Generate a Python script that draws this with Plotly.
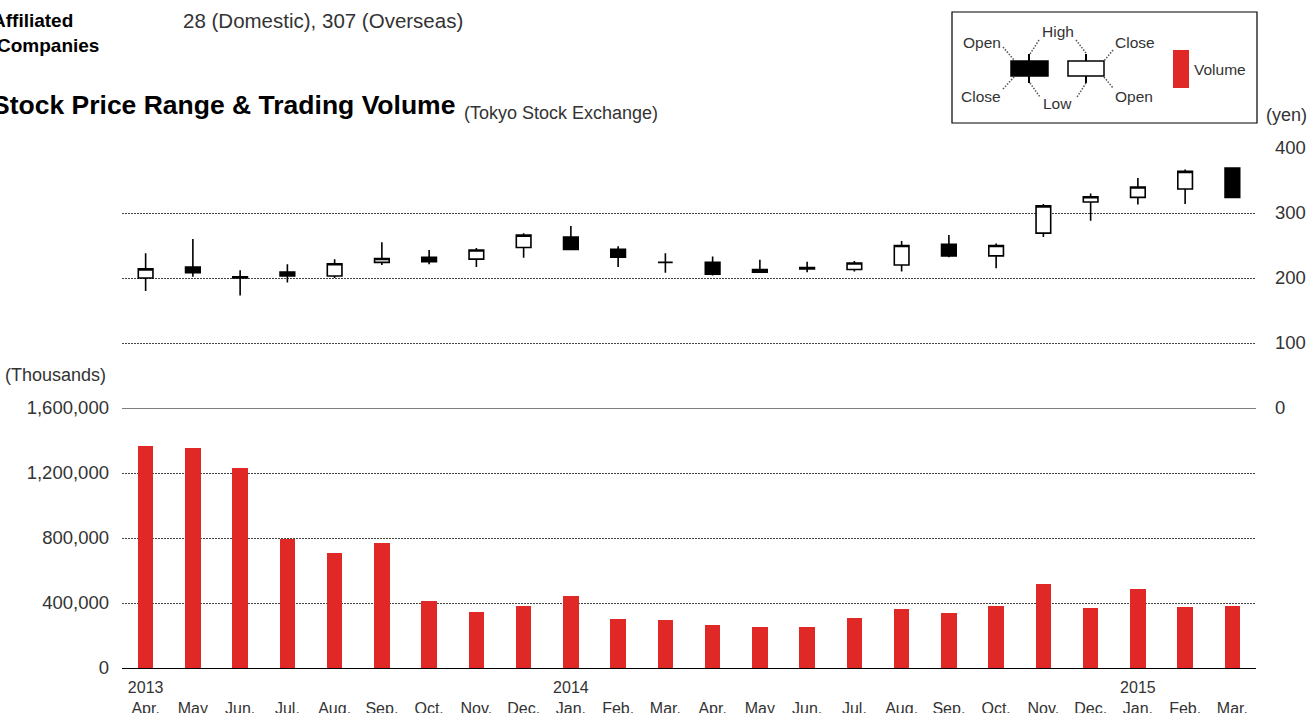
import plotly.graph_objects as go

# monthly data, Apr 2013 - Mar 2015 (Tokyo Stock Exchange)
months = ["2013-04", "2013-05", "2013-06", "2013-07", "2013-08", "2013-09",
          "2013-10", "2013-11", "2013-12", "2014-01", "2014-02", "2014-03",
          "2014-04", "2014-05", "2014-06", "2014-07", "2014-08", "2014-09",
          "2014-10", "2014-11", "2014-12", "2015-01", "2015-02", "2015-03"]
month_labels = ["Apr.", "May", "Jun.", "Jul.", "Aug.", "Sep.", "Oct.", "Nov.", "Dec.",
                "Jan.", "Feb.", "Mar.", "Apr.", "May", "Jun.", "Jul.", "Aug.", "Sep.",
                "Oct.", "Nov.", "Dec.", "Jan.", "Feb.", "Mar."]
year_labels = ["2013", "", "", "", "", "", "", "", "", "2014", "", "",
               "", "", "", "", "", "", "", "", "", "2015", "", ""]

price_open = [200, 217, 202, 209, 203, 224, 232, 229, 247, 263, 244, 224,
              224, 209, 216, 213, 220, 252, 234, 269, 317, 324, 337, 369]
price_high = [238, 260, 212, 221, 229, 255, 243, 246, 269, 280, 249, 238,
              233, 228, 225, 226, 257, 266, 253, 314, 330, 354, 367, 370]
price_low = [180, 202, 173, 193, 200, 220, 221, 217, 231, 244, 217, 208,
             204, 208, 209, 210, 210, 232, 215, 263, 288, 313, 314, 323]
price_close = [214, 208, 200, 203, 222, 230, 225, 243, 266, 244, 232, 224,
               206, 213, 214, 223, 250, 234, 250, 311, 325, 340, 364, 324]
volume = [1366000, 1354000, 1231000, 794000, 708000, 769000, 412000, 345000,
          382000, 443000, 302000, 295000, 265000, 252000, 252000, 308000,
          363000, 338000, 382000, 517000, 369000, 486000, 375000, 382000]

W, H = 1310, 713
L, R, T, B = 122, 1256, 148, 668
red = "#e02826"
txt = "#333333"
grid = "#444444"
font = "Liberation Sans"


def px(x):
    return (x - L) / (R - L)


def py(y):
    return (B - y) / (B - T)


ticktext = [f"{y}<br>{m}" if y else f" <br>{m}" for y, m in zip(year_labels, month_labels)]

fig = go.Figure()
fig.add_trace(go.Bar(
    x=months, y=volume, marker_color=red, marker_line_width=0,
    width=0.33, yaxis="y", showlegend=False,
))
fig.add_trace(go.Candlestick(
    x=months, open=price_open, high=price_high, low=price_low, close=price_close,
    yaxis="y2", showlegend=False,
    increasing=dict(line=dict(color="black", width=1.6), fillcolor="white"),
    decreasing=dict(line=dict(color="black", width=1.6), fillcolor="black"),
))

shapes = [
    # solid top line of the volume panel
    dict(type="line", xref="paper", yref="y", x0=0, x1=1, y0=1600000, y1=1600000,
         line=dict(color="black", width=1.2)),
    # legend box
    dict(type="rect", xref="paper", yref="paper", x0=px(952), x1=px(1257), y0=py(12), y1=py(123),
         line=dict(color="black", width=1.2)),
    # legend: black candle
    dict(type="line", xref="paper", yref="paper", x0=px(1029), x1=px(1029), y0=py(54), y1=py(83),
         line=dict(color="black", width=2)),
    dict(type="rect", xref="paper", yref="paper", x0=px(1011), x1=px(1048), y0=py(61), y1=py(76),
         line=dict(color="black", width=1.5), fillcolor="black"),
    # legend: white candle
    dict(type="line", xref="paper", yref="paper", x0=px(1086), x1=px(1086), y0=py(54), y1=py(83),
         line=dict(color="black", width=2)),
    dict(type="rect", xref="paper", yref="paper", x0=px(1068), x1=px(1104), y0=py(61), y1=py(76),
         line=dict(color="black", width=1.5), fillcolor="white"),
    # legend: volume swatch
    dict(type="rect", xref="paper", yref="paper", x0=px(1173), x1=px(1189), y0=py(50), y1=py(88),
         line=dict(width=0), fillcolor=red),
]
leaders = [((1003, 47), (1014, 60)), ((1003, 89), (1014, 77)),
           ((1039, 40), (1030, 54)), ((1076, 40), (1086, 53)),
           ((1030, 83), (1040, 97)), ((1086, 83), (1077, 97)),
           ((1113, 50), (1104, 61)), ((1104, 77), (1113, 88))]
for (x0, y0), (x1, y1) in leaders:
    shapes.append(dict(type="line", xref="paper", yref="paper",
                       x0=px(x0), y0=py(y0), x1=px(x1), y1=py(y1),
                       line=dict(color="#555555", width=1.5, dash="1.5px,1.5px")))

annotations = []


def note(text, x, y, size, anchor="left", bold=False, color="black"):
    annotations.append(dict(
        text=f"<b>{text}</b>" if bold else text, xref="paper", yref="paper",
        x=px(x), y=py(y), xanchor=anchor, yanchor="middle", showarrow=False,
        font=dict(family=font, size=size, color=color),
    ))


note("Affiliated", 75, 20, 19, anchor="right", bold=True)
note("Companies", 101, 45, 19, anchor="right", bold=True)
note("28 (Domestic), 307 (Overseas)", 181, 20, 20.5, color=txt)
note("Stock Price Range &amp; Trading Volume", 457, 105, 26.5, anchor="right", bold=True)
note("(Tokyo Stock Exchange)", 462, 113, 18, color=txt)
note("(yen)", 1309, 115, 18, anchor="right", color=txt)
note("(Thousands)", 108, 375, 18, anchor="right", color=txt)
note("Open", 1003, 42, 15.5, anchor="right", color=txt)
note("Close", 1003, 97, 15.5, anchor="right", color=txt)
note("High", 1058, 32, 15.5, anchor="center", color=txt)
note("Low", 1057, 103, 15.5, anchor="center", color=txt)
note("Close", 1113, 42, 15.5, color=txt)
note("Open", 1113, 97, 15.5, color=txt)
note("Volume", 1192, 69, 15.5, color=txt)

fig.update_layout(
    width=W, height=H,
    margin=dict(l=L, r=W - R, t=T, b=H - B, autoexpand=False),
    plot_bgcolor="white", paper_bgcolor="white",
    font=dict(family=font, color=txt),
    boxgap=0.69, boxgroupgap=0,
    bargap=0,
    shapes=shapes, annotations=annotations,
    xaxis=dict(
        type="category", categoryorder="array", categoryarray=months,
        tickvals=months, ticktext=ticktext, ticks="", ticklabelstandoff=5,
        tickfont=dict(size=16, color=txt), automargin=False,
        showgrid=False, showline=True, linecolor="black", linewidth=1.2,
        rangeslider=dict(visible=False), fixedrange=True,
    ),
    yaxis=dict(
        domain=[0, 0.5], range=[0, 1600000], automargin=False,
        tickvals=[0, 400000, 800000, 1200000, 1600000],
        ticktext=["0", "400,000", "800,000", "1,200,000", "1,600,000"],
        tickfont=dict(size=18.5, color=txt), ticks="", ticklabelstandoff=12,
        showgrid=True, gridcolor=grid, griddash="1.5px,1.5px", gridwidth=1.4,
        zeroline=False, showline=False,
    ),
    yaxis2=dict(
        domain=[0.5, 1], range=[0, 400], anchor="x", side="right", automargin=False,
        tickvals=[0, 100, 200, 300, 400],
        tickfont=dict(size=18.5, color=txt), ticks="", ticklabelstandoff=18,
        showgrid=True, gridcolor=grid, griddash="1.5px,1.5px", gridwidth=1.4,
        zeroline=False, showline=False,
    ),
)

fig.write_html("out.html", config={"displayModeBar": False},
               post_script="document.body.style.margin='0';")
